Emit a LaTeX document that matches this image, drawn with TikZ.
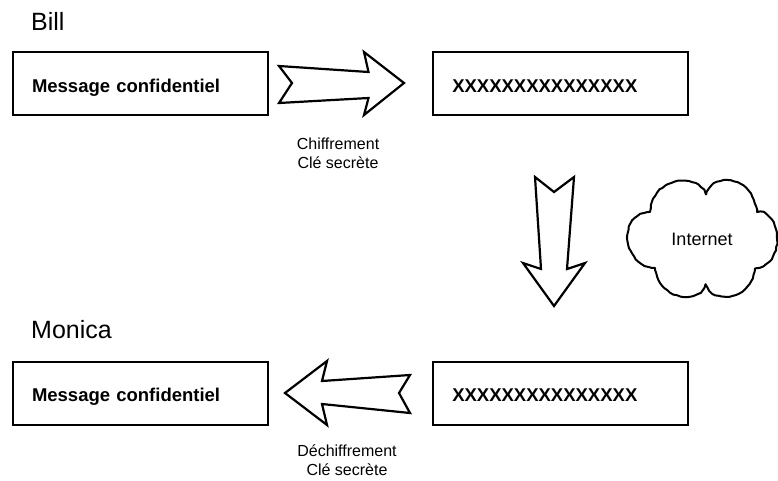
\documentclass[tikz,border=0pt]{standalone}
\usepackage{fontspec}
\setmainfont{Liberation Sans}
\usetikzlibrary{decorations.pathmorphing}
\begin{document}
\begin{tikzpicture}[x=1pt,y=-1pt,
  msgbox/.style={draw, line width=2pt, minimum width=255.5pt, minimum height=63pt,
    text width=216.5pt, inner xsep=19.5pt, align=left,
    font=\fontsize{18.5}{20}\selectfont\bfseries, text height=18pt, text depth=1.6pt},
  blockarrow/.style={draw, line width=2.2pt, fill=white, line join=miter},
  person/.style={font=\fontsize{25}{28}\selectfont, anchor=base west, inner sep=0pt},
  keylabel/.style={font=\fontsize{16}{19}\selectfont, align=center, inner sep=0pt, anchor=base},
  netcloud/.style={draw, line width=2pt, fill=white, line join=round,
    decorate, decoration={random steps, segment length=3.5pt, amplitude=0.5pt}}]
\useasboundingbox (0,0) rectangle (778,480);
\pgfmathsetseed{7}

% people
\node[person] (bill) at (31,30) {Bill};
\node[person] (monica) at (31,338) {Monica};

% message boxes
\node[msgbox] (plain1)  at (140.25,83.8) {Message confidentiel};
\node[msgbox] (cipher1) at (560.5,83.8) {XXXXXXXXXXXXXXX};
\node[msgbox] (plain2)  at (140.25,393) {Message confidentiel};
\node[msgbox] (cipher2) at (560.5,393) {XXXXXXXXXXXXXXX};

% encryption arrow
\draw[blockarrow] (279,66) -- (368.5,72) -- (364,52) -- (404,83) -- (364,115)
  -- (368.5,98) -- (279,103) -- (292,83) -- cycle;
\node[keylabel] (enc) at (338,168) {Chiffrement\\Clé secrète};

% transmission arrow
\draw[blockarrow] (535,177) -- (554,192) -- (574,177) -- (567,269) -- (585,263)
  -- (554,306) -- (523,263) -- (541,269) -- cycle;

% internet cloud
\draw[netcloud] (706,195)
  .. controls (711,174) and (751,172) .. (757,212)
  .. controls (779,208) and (789,264) .. (755,268)
  .. controls (752,301) and (712,305) .. (706,284)
  .. controls (700,305) and (660,301) .. (655,268)
  .. controls (622,266) and (617,214) .. (650,212)
  .. controls (653,174) and (701,174) .. (706,195) -- cycle;
\node[font=\fontsize{18}{20}\selectfont, anchor=base, inner sep=0pt] (net) at (702,245) {Internet};

% decryption arrow
\draw[blockarrow] (285,393) -- (327,361) -- (322,381) -- (410,375) -- (399,393)
  -- (410,413) -- (322,404) -- (327,425) -- cycle;
\node[keylabel] (dec) at (347,475) {Déchiffrement\\Clé secrète};
\end{tikzpicture}
\end{document}
